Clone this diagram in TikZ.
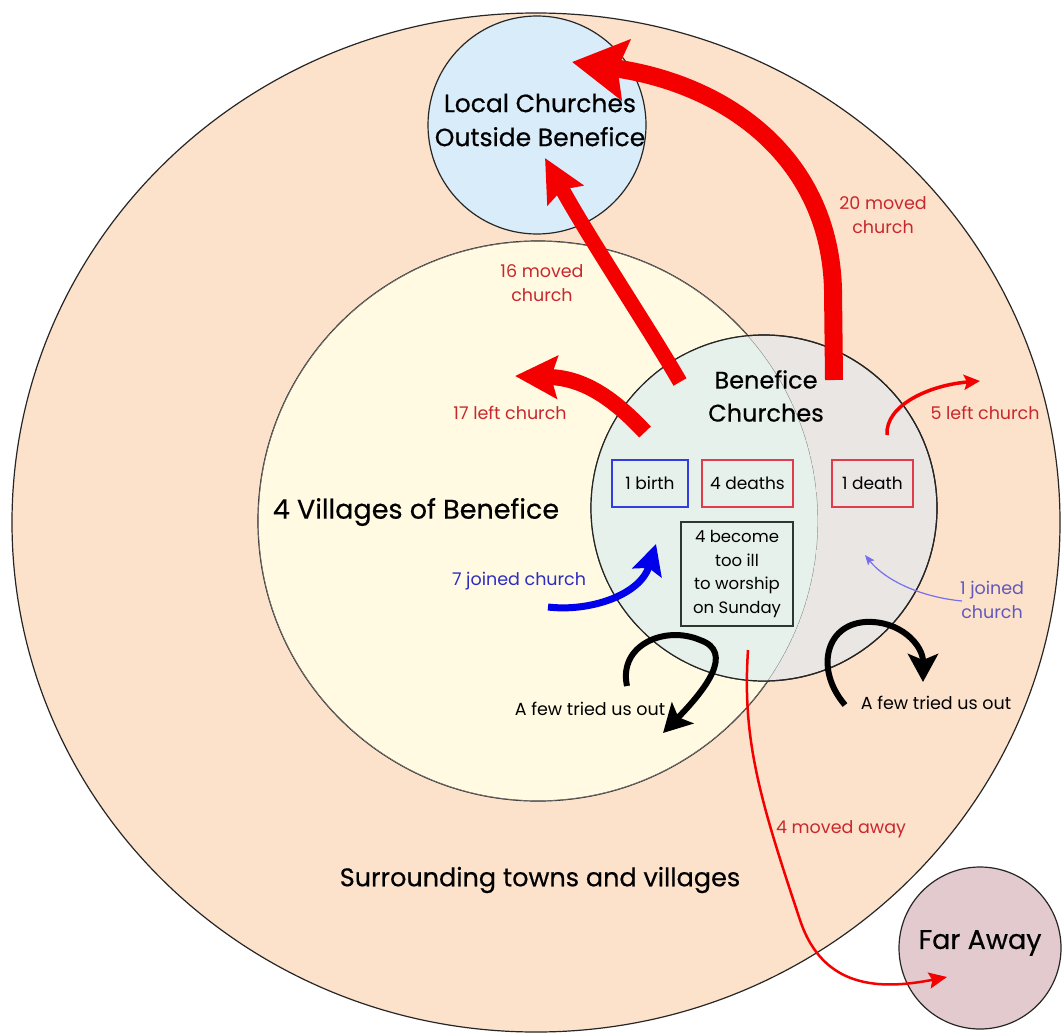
\documentclass[tikz,border=0pt]{standalone}
\usepackage{fontspec}
\setmainfont{Poppins}
\newfontfamily\thickfont[FakeBold=0.5]{Poppins}
\usetikzlibrary{arrows.meta,shapes.geometric}
\definecolor{peach}{RGB}{253,226,203}
\definecolor{cream}{RGB}{255,250,225}
\definecolor{skyb}{RGB}{216,236,250}
\definecolor{bengray}{RGB}{233,230,227}
\definecolor{bengreen}{RGB}{231,241,236}
\definecolor{mauve}{RGB}{226,202,206}
\definecolor{arrred}{RGB}{245,0,0}
\definecolor{txtred}{RGB}{200,40,45}
\definecolor{arrblue}{RGB}{0,0,235}
\definecolor{txtblue}{RGB}{45,45,195}
\definecolor{lavender}{RGB}{120,110,235}
\definecolor{boxblue}{RGB}{50,60,225}
\definecolor{boxred}{RGB}{225,60,75}
\definecolor{boxdark}{RGB}{45,55,45}
\tikzset{
  ring/.style={circle, draw=black!85, line width=1.2pt, inner sep=0pt},
  bigtxt/.style={font=\thickfont\fontsize{25}{34}\selectfont, align=center, text=black},
  smalltxt/.style={font=\fontsize{17.5}{24}\selectfont, align=center},
  redlbl/.style={smalltxt, text=txtred},
  bluelbl/.style={smalltxt, text=txtblue},
  infobox/.style={draw, line width=1.5pt, inner sep=0pt, minimum height=47pt, font=\fontsize{17}{24}\selectfont},
  fatarrow/.style={draw=arrred, line width=#1},
}
\begin{document}
\begin{tikzpicture}[x=1pt,y=-1pt]
\useasboundingbox (0,0) rectangle (1064,1035);
\fill[white] (0,0) rectangle (1064,1035);

% circles
\node[ring, ellipse, fill=peach, minimum width=1048pt, minimum height=1019pt] (outer) at (536,522.5) {};
\node[ring, fill=cream, minimum size=560pt] (vill) at (538,521) {};
\node[ring, fill=skyb, minimum size=218pt] (local) at (537,125) {};
\node[ring, fill=bengray, minimum size=346pt] (ben) at (764,508) {};
\begin{scope}
  \clip (538,521) circle[radius=280pt];
  \fill[bengreen] (764,508) circle[radius=173pt];
  \draw[black!45, line width=0.9pt] (538,521) circle[radius=280pt];
\end{scope}
\draw[black!85, line width=1.2pt] (764,508) circle[radius=173pt];
\node[ring, fill=mauve, minimum size=162pt] (far) at (980,948) {};

% coordinates for connectors
\coordinate (a20s) at (834,380);
\coordinate (a20t) at (572,62);
\coordinate (a16s) at (680,382);
\coordinate (a16t) at (545,158);
\coordinate (a17s) at (645,432);
\coordinate (a17t) at (515,376);
\coordinate (a5s) at (887,435);
\coordinate (a5t) at (980,381);
\coordinate (a7s) at (548,607);
\coordinate (a7t) at (656,544);
\coordinate (a1s) at (962,601);
\coordinate (a1t) at (865,555);
\coordinate (mvs) at (748,650);
\coordinate (mvt) at (947,977);
\coordinate (l1s) at (627,686);
\coordinate (l1t) at (663,733);
\coordinate (l2s) at (845,705);
\coordinate (l2t) at (923,682);

% thick red arrows
\draw[fatarrow=18pt, -{Stealth[length=54pt,width=60pt,inset=8pt]}]
  (a20s) -- (833,290) .. controls (830,160) and (730,85) .. (a20t);
\draw[fatarrow=15pt, -{Stealth[length=42pt,width=40pt,inset=6pt]}]
  (a16s) .. controls (650,330) and (590,240) .. (a16t);
\draw[fatarrow=16pt, -{Stealth[length=42pt,width=42pt,inset=6pt]}]
  (a17s) .. controls (615,400) and (585,378) .. (a17t);
\draw[fatarrow=3.5pt, -{Stealth[length=16pt,width=15pt,inset=3pt]}]
  (a5s) .. controls (885,405) and (930,385) .. (a5t);
\draw[fatarrow=2.5pt, -{Stealth[length=18pt,width=16pt,inset=3pt]}]
  (mvs) .. controls (742,740) and (760,800) .. (800,920) .. controls (823,989) and (880,990) .. (mvt);

% blue arrows
\draw[draw=arrblue, line width=7pt, -{Stealth[length=30pt,width=30pt,inset=5pt]}]
  (a7s) .. controls (590,612) and (640,595) .. (a7t);
\draw[draw=lavender, line width=1.2pt, -{Stealth[length=10pt,width=8pt,inset=2pt]}]
  (a1s) .. controls (920,597) and (885,580) .. (a1t);

% black loops
\draw[black, line width=6pt, -{Stealth[length=28pt,width=30pt,inset=6pt]}]
  (l1s) .. controls (618,645) and (665,625) .. (700,640) .. controls (735,652) and (705,690) .. (l1t);
\draw[black, line width=6pt, -{Stealth[length=28pt,width=30pt,inset=6pt]}]
  (l2s) .. controls (815,670) and (825,625) .. (865,622) .. controls (900,620) and (923,645) .. (l2t);

% big labels
\node[bigtxt] (tlocal) at (540,120) {Local Churches\\Outside Benefice};
\node[bigtxt, font=\thickfont\fontsize{24}{33}\selectfont] (tben) at (766,396) {Benefice\\Churches};
\node[bigtxt, font=\thickfont\fontsize{27}{30}\selectfont] (tvill) at (416,512) {4 Villages of Benefice};
\node[bigtxt, font=\thickfont\fontsize{25.5}{30}\selectfont] (tsurr) at (540,880) {Surrounding towns and villages};
\node[bigtxt, font=\thickfont\fontsize{27}{30}\selectfont] (tfar) at (980,943) {Far Away};

% small labels
\node[redlbl] (l20) at (883,215) {20 moved\\church};
\node[redlbl] (l16) at (542,283) {16 moved\\church};
\node[redlbl] (l17) at (510,413) {17 left church};
\node[redlbl] (l5) at (985,413) {5 left church};
\node[redlbl] (lmv) at (841,829) {4 moved away};
\node[bluelbl] (l7) at (519,581) {7 joined church};
\node[bluelbl, text=lavender!80!black] (l1) at (992,600) {1 joined\\church};
\node[smalltxt] (try1) at (590,709) {A few tried us out};
\node[smalltxt] (try2) at (936,703) {A few tried us out};

% boxes
\node[infobox, draw=boxblue, minimum width=76pt] (birth) at (650,483.5) {1 birth};
\node[infobox, draw=boxred, minimum width=91pt] (deaths) at (747.5,483.5) {4 deaths};
\node[infobox, draw=boxred, minimum width=81pt] (death) at (872.5,483.5) {1 death};
\node[draw=boxdark, line width=2pt, inner sep=0pt, minimum width=112pt, minimum height=104pt,
      align=center, font=\fontsize{16.5}{23.5}\selectfont] (ill) at (737,574)
      {4 become\\too ill\\to worship\\on Sunday};
\end{tikzpicture}
\end{document}
